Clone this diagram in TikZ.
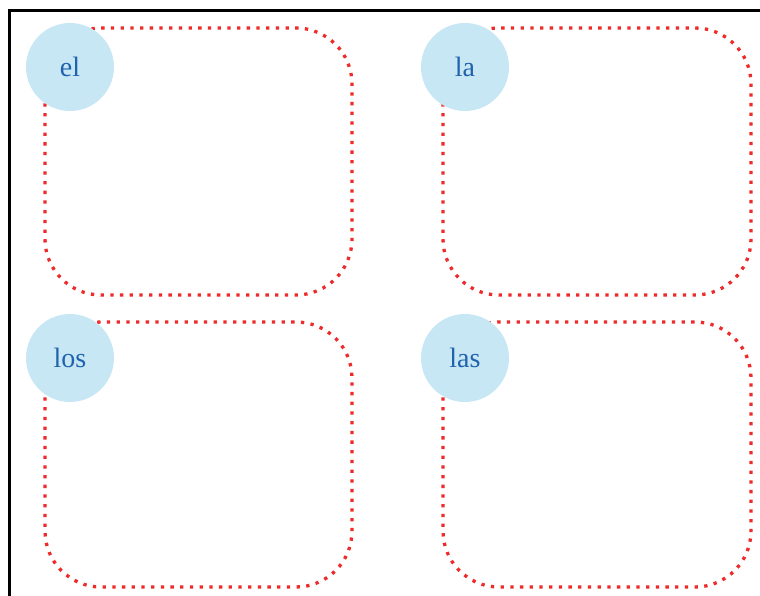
\documentclass[tikz,border=0pt]{standalone}
\usepackage{fontspec}
\setmainfont{Liberation Serif}
\definecolor{dotred}{HTML}{EE2A2A}
\definecolor{circfill}{HTML}{C8E7F4}
\definecolor{txtblue}{HTML}{1F63AE}
\begin{document}
\begin{tikzpicture}[x=1pt,y=-1pt,
  dotbox/.style={draw=dotred, line width=3.3pt, dash pattern=on 3.3pt off 6.4pt, rounded corners=56pt},
  label/.style={circle, fill=circfill, minimum size=88pt, inner sep=0pt, text=txtblue, font=\fontsize{28}{31}\selectfont},
  frame/.style={draw=black, line width=2.6pt}]
\useasboundingbox (0,0) rectangle (760,595);
\draw[frame] (9.5,600) -- (9.5,10.5) -- (765,10.5);
\draw[dotbox] (45,28) rectangle (352,295);
\draw[dotbox] (443,28) rectangle (751,295);
\draw[dotbox] (45,322) rectangle (352,587);
\draw[dotbox] (443,322) rectangle (751,587);
\node[label] (el) at (70,67) {el};
\node[label] (la) at (465,67) {la};
\node[label] (los) at (70,358) {los};
\node[label] (las) at (465,358) {las};
\end{tikzpicture}
\end{document}
